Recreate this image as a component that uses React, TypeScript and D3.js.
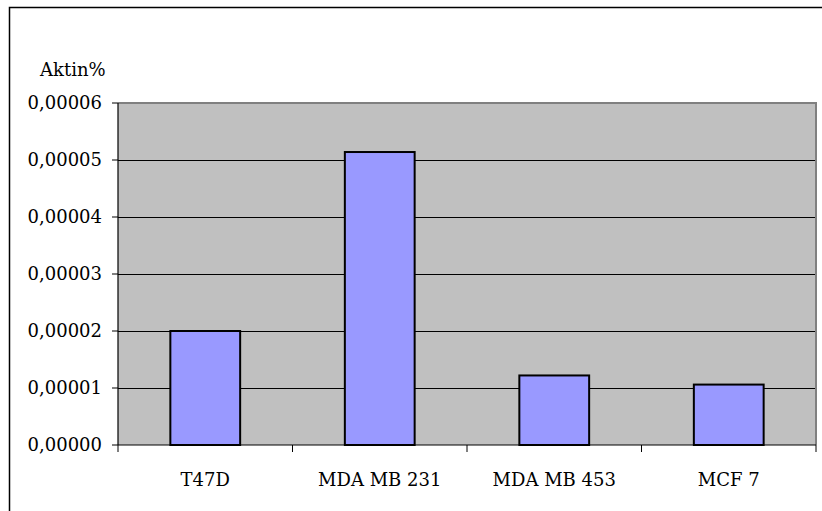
import React from "react";
import * as d3 from "d3";

const categories = ["T47D", "MDA MB 231", "MDA MB 453", "MCF 7"];
const values = [0.00002, 0.0000514, 0.0000122, 0.0000106];
const yTicks = [0, 0.00001, 0.00002, 0.00003, 0.00004, 0.00005, 0.00006];
const yLabel = "Aktin%";

export default function App() {
  const W = 822, H = 511;
  const left = 118, right = 816, top = 103, bottom = 445;
  const x = d3.scaleBand<string>().domain(categories).range([left, right]).paddingInner(0.6).paddingOuter(0.3);
  const xb = d3.scaleBand<string>().domain(categories).range([left, right]);
  const y = d3.scaleLinear().domain([0, 0.00006]).range([bottom, top]);
  const fmt = (v: number) => v.toFixed(5).replace(".", ",");
  const font = "'DejaVu Serif'";
  const fs = 18;
  return (
    <svg width={W} height={H} style={{ position: "absolute", left: 0, top: 0, background: "#fff" }}>
      <rect x={9.5} y={7.5} width={W + 20} height={H + 20} fill="#fff" stroke="#000" strokeWidth={1.5} />
      <rect x={left} y={top} width={right - left} height={bottom - top} fill="#C0C0C0" />
      {yTicks.slice(1).map((t) => (
        <line key={t} x1={left} x2={right} y1={Math.round(y(t)) + 0.5} y2={Math.round(y(t)) + 0.5} stroke="#000" strokeWidth={1} />
      ))}
      <line x1={left} x2={right + 1} y1={top} y2={top} stroke="#808080" strokeWidth={2} />
      <line x1={right} x2={right} y1={top} y2={bottom} stroke="#808080" strokeWidth={2} />
      {categories.map((c, i) => (
        <rect key={c} x={x(c)!} y={y(values[i])} width={x.bandwidth()} height={bottom - y(values[i])} fill="#9999FF" stroke="#000" strokeWidth={2} />
      ))}
      <line x1={left} x2={left} y1={top} y2={bottom} stroke="#000" strokeWidth={1.2} />
      <line x1={left} x2={right} y1={bottom} y2={bottom} stroke="#000" strokeWidth={1.2} />
      {yTicks.map((t) => (
        <g key={t}>
          <line x1={left - 6} x2={left} y1={y(t)} y2={y(t)} stroke="#000" strokeWidth={1} />
          <text x={102} y={y(t)} dy="0.35em" textAnchor="end" style={{ fontFamily: font }} fontSize={fs} fill="#000">{fmt(t)}</text>
        </g>
      ))}
      {categories.map((c) => (
        <line key={"t" + c} x1={xb(c)!} x2={xb(c)!} y1={bottom} y2={bottom + 7} stroke="#000" strokeWidth={1} />
      ))}
      <line x1={right} x2={right} y1={bottom} y2={bottom + 7} stroke="#000" strokeWidth={1} />
      {categories.map((c) => (
        <text key={"l" + c} x={xb(c)! + xb.bandwidth() / 2} y={486} textAnchor="middle" style={{ fontFamily: font }} fontSize={fs} fill="#000">{c}</text>
      ))}
      <text x={40} y={76} style={{ fontFamily: font }} fontSize={fs} fill="#000">{yLabel}</text>
    </svg>
  );
}
